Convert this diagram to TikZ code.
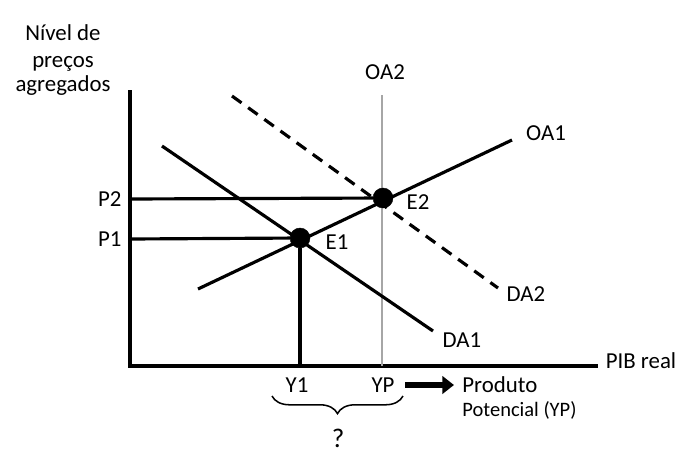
\documentclass[tikz,border=0pt]{standalone}
\usepackage{fontspec}
\setmainfont{Carlito}
\usetikzlibrary{positioning,arrows.meta,decorations.pathreplacing}

\tikzset{
  curve/.style={line width=2.7pt,black},
  dot/.style={draw,circle,fill,inner sep=0pt,minimum size=0.6cm},
  lbl/.style={font=\fontsize{19.5}{22}\selectfont,inner sep=1pt}
}

\begin{document}
\begin{tikzpicture}[x=0.03cm,y=-0.03cm]
        \useasboundingbox (0,0) rectangle (687,462);

        \coordinate (o) at (130,366);
        \coordinate (ytop) at (130,90);
        \coordinate (xend) at (598,366);
        \coordinate (oa2top) at (382,95);
        \coordinate (oa2bot) at (382,366);
        \coordinate (oa1s) at (198,289);
        \coordinate (oa1e) at (512,140);
        \coordinate (da1s) at (162,146);
        \coordinate (da1e) at (433,331);
        \coordinate (da2s) at (232,96);
        \coordinate (da2e) at (498,288);
        \coordinate (p2) at (130,199);
        \coordinate (p1) at (130,239);
        \coordinate (y1) at (300,366);

        % eixos
        \draw [curve] (ytop) -- (o) -- (xend);
        \draw [gray!70,line width=1.8pt] (oa2top) -- (oa2bot);

        \draw [curve] (oa1s) -- (oa1e);
        \draw [curve] (da1s) -- (da1e);
        \draw [curve, dashed, dash pattern=on 10pt off 7pt] (da2s) -- (da2e);

        \node [dot] at (300,238) (e1){};
        \node [dot] at (383,198) (e2){};

        \draw [curve] (p2) -- (e2);
        \draw [curve] (p1) -- (e1);
        \draw [curve] (e1) -- (y1);

        % textos
        \node [lbl,align=center] at (63,60) (eixoy){N\'ivel de\\[1pt]preços\\[-1pt]agregados};
        \node [lbl] at (385,72) (toa2){OA2};
        \node [lbl] at (546,133) (toa1){OA1};
        \node [lbl] at (526,294) (tda2){DA2};
        \node [lbl] at (462,340) (tda1){DA1};
        \node [lbl] at (641,361) (tpib){PIB real};
        \node [lbl,left=6pt of p2] (tp2){P2};
        \node [lbl,left=6pt of p1] (tp1){P1};
        \node [lbl] at (337,242) (te1){E1};
        \node [lbl] at (418,202) (te2){E2};
        \node [lbl] at (297,385) (ty1){Y1};
        \node [lbl] at (383,385) (typ){YP};
        \node [lbl,anchor=west] at (461,385) (tprod){Produto};
        \node [lbl,anchor=west,font=\fontsize{17.5}{20}\selectfont] at (461,410) (tpot){Potencial (YP)};
        \node [lbl,font=\fontsize{23}{26}\selectfont] at (338,438) (tq){?};

        \draw [line width=4.5pt,-{Triangle[length=10pt,width=15pt]},shorten <=8pt,shorten >=6pt] (typ.east) -- (tprod.west);
        \draw [line width=1.3pt,decorate,decoration={brace,mirror,amplitude=15pt}] (272,396) -- (403,396);
      \end{tikzpicture}
\end{document}
